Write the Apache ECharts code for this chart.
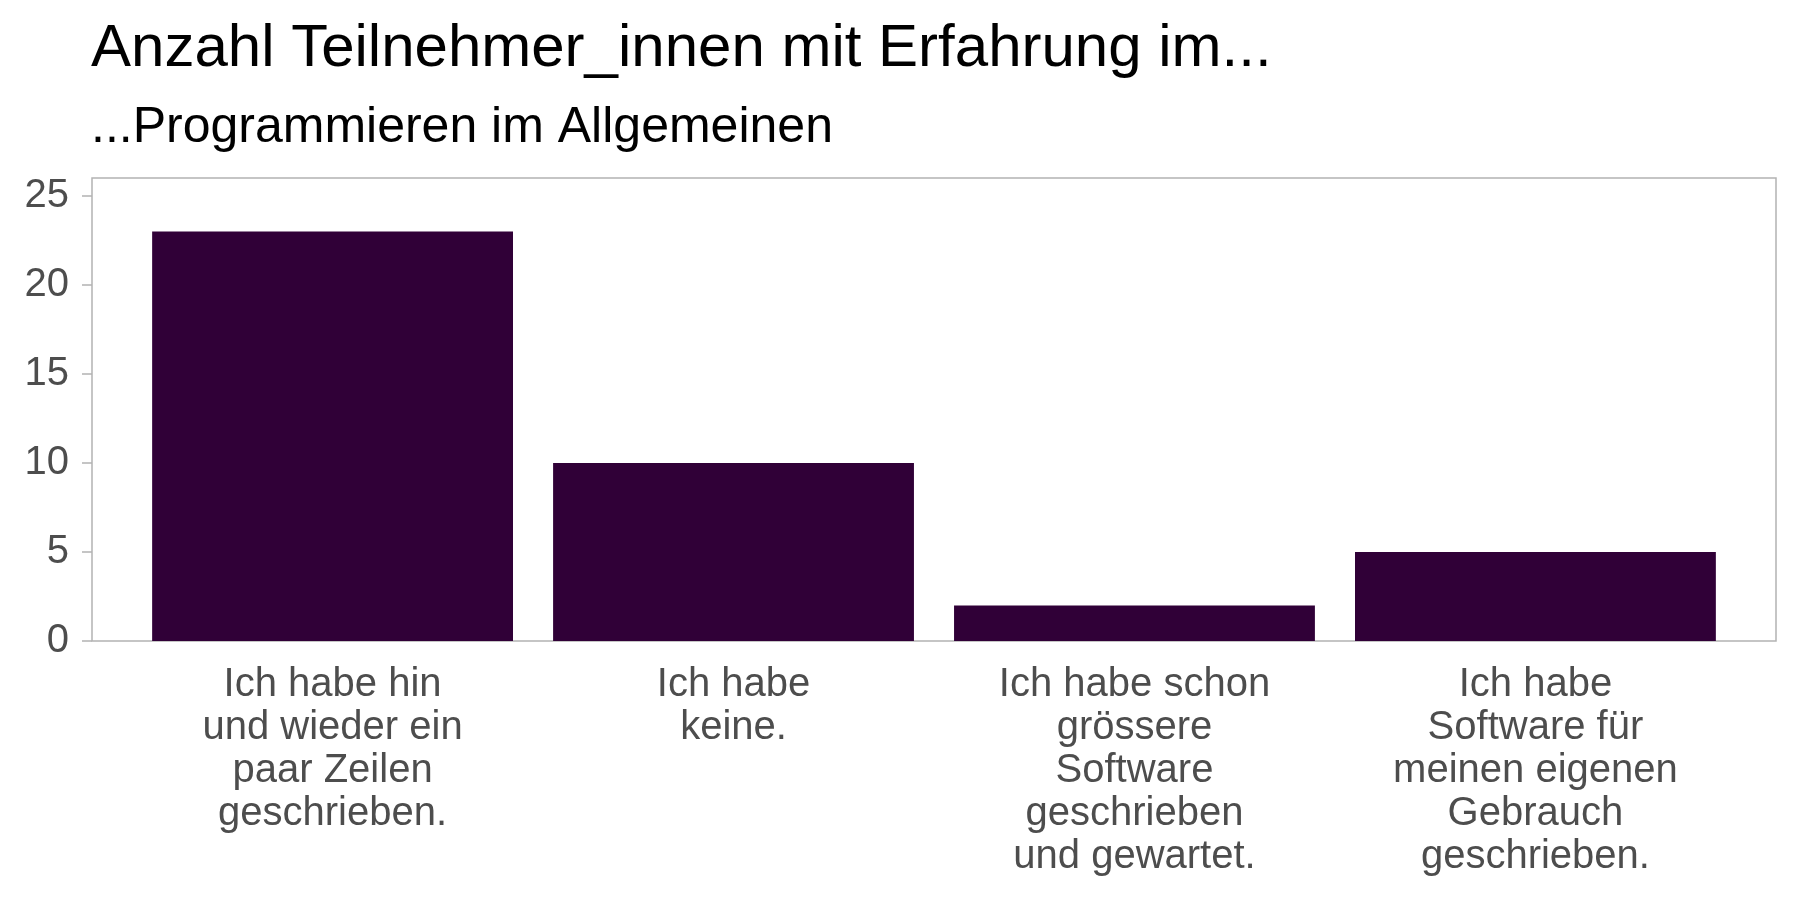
<!DOCTYPE html>
<html>
<head>
<meta charset="utf-8">
<script src="https://cdn.jsdelivr.net/npm/echarts@6/dist/echarts.min.js"></script>
<style>
  html, body { margin: 0; padding: 0; background: #fff; }
  #main { width: 1800px; height: 900px; }
</style>
</head>
<body>
<div id="main"></div>
<script>
// Kategorien (x-Achse) und Anzahl Teilnehmer_innen
const categories = [
  'Ich habe hin\nund wieder ein\npaar Zeilen\ngeschrieben.',
  'Ich habe\nkeine.',
  'Ich habe schon\ngrössere\nSoftware\ngeschrieben\nund gewartet.',
  'Ich habe\nSoftware für\nmeinen eigenen\nGebrauch\ngeschrieben.'
];
const counts = [23, 10, 2, 5];
const yTicks = [0, 5, 10, 15, 20, 25];
const xTicks = [0, 1, 2, 3];

const chart = echarts.init(document.getElementById('main'));
const font = '"Liberation Sans", Arial, sans-serif';

const option = {
  backgroundColor: '#ffffff',
  animation: false,
  title: [
    {
      text: 'Anzahl Teilnehmer_innen mit Erfahrung im...',
      left: 91, top: 19, padding: 0,
      textStyle: { fontFamily: font, fontSize: 60, fontWeight: 'normal', color: '#000000' }
    },
    {
      text: '...Programmieren im Allgemeinen',
      left: 91, top: 103, padding: 0,
      textStyle: { fontFamily: font, fontSize: 50, fontWeight: 'normal', color: '#000000' }
    }
  ],
  grid: {
    left: 92, right: 24, top: 178, bottom: 259,
    show: true, borderColor: '#b3b3b3', borderWidth: 1.5,
    backgroundColor: 'transparent'
  },
  xAxis: {
    type: 'value',
    min: -0.6, max: 3.6,
    splitLine: { show: false },
    axisLine: { show: false, onZero: false },
    axisTick: { show: false },
    axisLabel: {
      customValues: xTicks,
      margin: 22,
      fontFamily: font, fontSize: 40, lineHeight: 43, color: '#4d4d4d',
      align: 'center', verticalAlign: 'top',
      formatter: v => categories[Math.round(v)] || ''
    }
  },
  yAxis: {
    type: 'value',
    min: 0, max: 26,
    splitLine: { show: false },
    axisLine: { show: false, onZero: false },
    axisTick: { show: true, customValues: yTicks, length: 10, lineStyle: { color: '#b3b3b3', width: 1.5 } },
    axisLabel: {
      customValues: yTicks,
      margin: 23,
      padding: [7, 0, 0, 0],
      fontFamily: font, fontSize: 40, color: '#4d4d4d'
    }
  },
  series: [{
    type: 'bar',
    barWidth: '90%',
    itemStyle: { color: '#300037' },
    data: counts.map((v, i) => [i, v])
  }]
};

chart.setOption(option);
</script>
</body>
</html>
